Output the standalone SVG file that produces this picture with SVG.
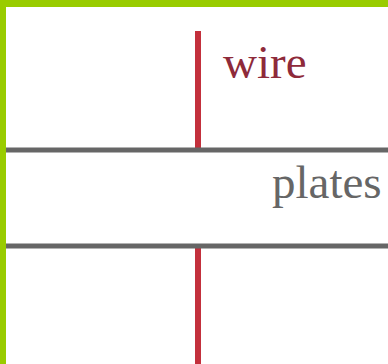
<svg xmlns="http://www.w3.org/2000/svg" width="388" height="364" viewBox="0 0 388 364">
<style>
.plate{stroke:#666;stroke-width:5;fill:none}
.wire{stroke:#c3303c;stroke-width:6;fill:none}
.lbl{font-family:"Liberation Serif","Times New Roman",serif;font-size:47px}
</style>
<rect x="0" y="0" width="388" height="364" fill="#fff"/>
<rect x="0" y="0" width="388" height="7" fill="#99cc00"/>
<rect x="0" y="0" width="6" height="364" fill="#99cc00"/>
<g id="connectors">
<line class="wire" x1="198" y1="31" x2="198" y2="150"/>
<line class="wire" x1="198" y1="246" x2="198" y2="364"/>
</g>
<g id="plates">
<line class="plate" x1="6" y1="150" x2="388" y2="150"/>
<line class="plate" x1="6" y1="246" x2="388" y2="246"/>
<text class="lbl" x="272" y="198" fill="#666">plates</text>
</g>
<g id="wire">
<text class="lbl" x="223" y="78" fill="#8e2a3a">wire</text>
</g>
</svg>
